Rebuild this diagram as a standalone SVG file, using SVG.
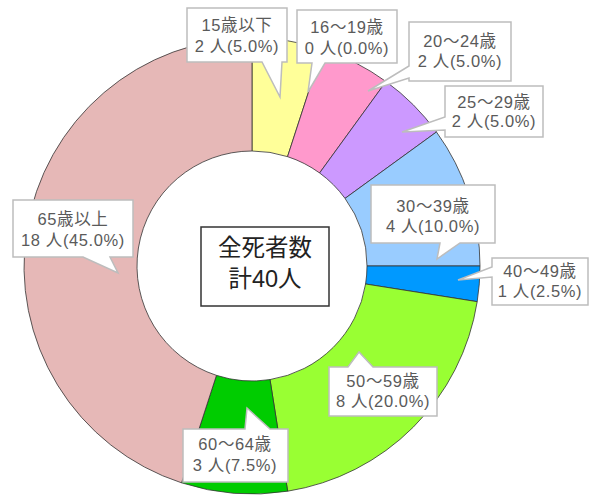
<svg xmlns="http://www.w3.org/2000/svg" width="593" height="496" viewBox="0 0 593 496">
<style>
.s{stroke:#333;stroke-width:0.8;stroke-linejoin:round}
.c{fill:#fff;stroke:#bdbdbd;stroke-width:1.5;stroke-linejoin:miter}
.t{font-family:"Liberation Sans","Noto Sans CJK JP",sans-serif;font-size:16.5px;fill:#5a5a5a;text-anchor:middle;letter-spacing:0.6px}
.m{font-family:"Liberation Sans","Noto Sans CJK JP",sans-serif;font-size:23.5px;fill:#222;text-anchor:middle}
</style>
<rect width="593" height="496" fill="#fff"/>
<g id="slices">
<g id="s15"><path class="s" fill="#ffff99" d="M252,38 A228,228 0 0 1 322.46,49.16 L287.54,156.63 A115,115 0 0 0 252,151 Z"/></g>
<g id="s20"><path class="s" fill="#ff99cc" d="M322.46,49.16 A228,228 0 0 1 386.02,81.54 L319.60,172.96 A115,115 0 0 0 287.54,156.63 Z"/></g>
<g id="s25"><path class="s" fill="#cc99ff" d="M386.02,81.54 A228,228 0 0 1 436.46,131.98 L345.04,198.40 A115,115 0 0 0 319.60,172.96 Z"/></g>
<g id="s30"><path class="s" fill="#99ccff" d="M436.46,131.98 A228,228 0 0 1 480,266 L367,266 A115,115 0 0 0 345.04,198.40 Z"/></g>
<g id="s40"><path class="s" fill="#0099ff" d="M480,266 A228,228 0 0 1 477.19,301.67 L365.58,283.99 A115,115 0 0 0 367,266 Z"/></g>
<g id="s50"><path class="s" fill="#99ff33" d="M477.19,301.67 A228,228 0 0 1 287.67,491.19 L269.99,379.58 A115,115 0 0 0 365.58,283.99 Z"/></g>
<g id="s60"><path class="s" fill="#00cc00" d="M287.67,491.19 A228,228 0 0 1 181.54,482.84 L216.46,375.37 A115,115 0 0 0 269.99,379.58 Z"/></g>
<g id="s65"><path class="s" fill="#e6b8b7" d="M181.54,482.84 A228,228 0 0 1 252,38 L252,151 A115,115 0 0 0 216.46,375.37 Z"/></g>
</g>
<g id="center">
<rect x="201" y="227" width="128" height="79" fill="#fff" stroke="#333" stroke-width="1.5"/>
<text class="m" x="265" y="256">全死者数</text>
<text class="m" x="265" y="287">計40人</text>
</g>
<g id="connectors">
<path class="c" d="M187,8 H287 V62 H282 L280,97 L262,62 H187 Z"/>
<path class="c" d="M297,10 H397 V63 H325 L308,92 L312,63 H297 Z"/>
<path class="c" d="M409,22 H511 V81 H409 V78 L368,91 L409,66 Z"/>
<path class="c" d="M445,86 H543 V137 H445 V130 L402,132 L445,117 Z"/>
<path class="c" d="M371,185 H495 V243 H460 L437,259 L440,243 H371 Z"/>
<path class="c" d="M492,258 H588 V305 H492 V277 L458,280 L492,267 Z"/>
<path class="c" d="M13,200 H133 V257 H110 L118,273 L83,257 H13 Z"/>
<path class="c" d="M329,367 H348 L359,352 L373,367 H437 V416 H329 Z"/>
<path class="c" d="M183,429 H245 L247,408 L270,429 H288 V482 H183 Z"/>
</g>
<g id="l15"><text class="t" x="237" y="31">15歳以下</text><text class="t" x="237" y="52">2 人(5.0%)</text></g>
<g id="l16"><text class="t" x="347" y="33">16～19歳</text><text class="t" x="347" y="54">0 人(0.0%)</text></g>
<g id="l20"><text class="t" x="460" y="47">20～24歳</text><text class="t" x="460" y="67">2 人(5.0%)</text></g>
<g id="l25"><text class="t" x="494" y="108">25～29歳</text><text class="t" x="494" y="127">2 人(5.0%)</text></g>
<g id="l30"><text class="t" x="433" y="212">30～39歳</text><text class="t" x="433" y="232">4 人(10.0%)</text></g>
<g id="l40"><text class="t" x="540" y="277">40～49歳</text><text class="t" x="540" y="297">1 人(2.5%)</text></g>
<g id="l65"><text class="t" x="73" y="225">65歳以上</text><text class="t" x="73" y="246">18 人(45.0%)</text></g>
<g id="l50"><text class="t" x="383" y="387">50～59歳</text><text class="t" x="383" y="407">8 人(20.0%)</text></g>
<g id="l60"><text class="t" x="235" y="450">60～64歳</text><text class="t" x="235" y="471">3 人(7.5%)</text></g>
</svg>
